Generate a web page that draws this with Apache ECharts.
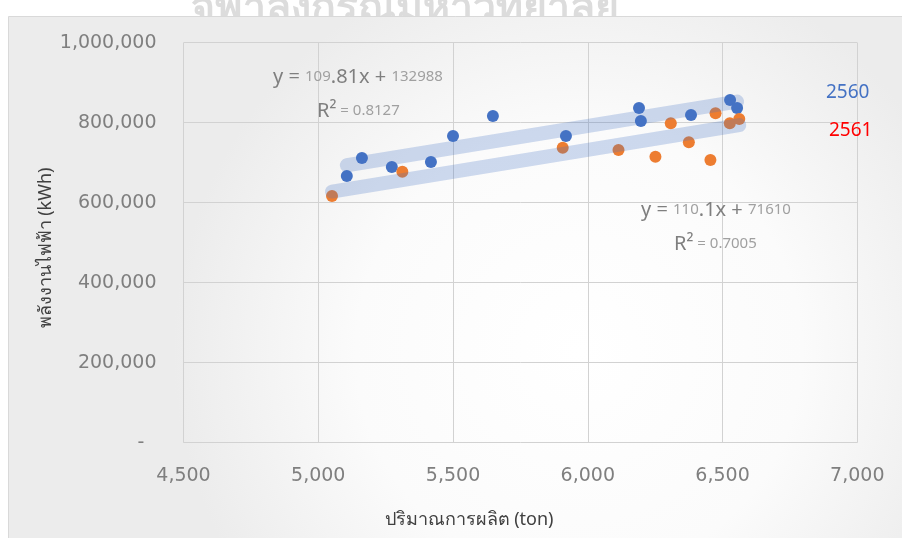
<!DOCTYPE html>
<html>
<head>
<meta charset="utf-8">
<script src="https://cdn.jsdelivr.net/npm/echarts@6/dist/echarts.min.js"></script>
<style>
  html, body { margin: 0; padding: 0; background: #ffffff; }
  #chart { width: 902px; height: 538px; }
</style>
</head>
<body>
<div id="chart"></div>
<script>
// Monthly production (ton) vs. electrical energy (kWh), two years
const seriesNames = ['2560', '2561'];
const seriesColors = ['#4472C4', '#ED7D31'];
const nameColors = ['#4472C4', '#FF0000'];

const output2560 = [5106, 5162, 5273, 5418, 5500, 5648, 5919, 6190, 6197, 6383, 6528, 6554];
const energy2560 = [666750, 711750, 689250, 701750, 766750, 816750, 766750, 836750, 804250, 819250, 856750, 836750];

const output2561 = [5051, 5312, 5907, 6114, 6251, 6308, 6375, 6455, 6474, 6527, 6562];
const energy2561 = [616750, 677500, 737500, 731750, 715000, 798500, 751000, 706750, 823500, 798500, 809250];

// Linear trend lines y = a x + b
const trendSlope = [109.81, 110.1];
const trendIntercept = [132988, 71610];
const trendR2 = ['0.8127', '0.7005'];

// Axis ranges
const xMin = 4500, xMax = 7000, xStep = 500;
const yMin = 0, yMax = 1000000, yStep = 200000;

const watermark = 'จุฬาลงกรณ์มหาวิทยาลัย';
const xTitle = 'ปริมาณการผลิต (ton)';
const yTitle = 'พลังงานไฟฟ้า (kWh)';

const outputs = [output2560, output2561];
const energies = [energy2560, energy2561];

const fmt = v => v.toLocaleString('en-US');

function trendPoints(i) {
  const xs = outputs[i];
  const lo = Math.min(...xs), hi = Math.max(...xs);
  return [lo, hi].map(x => [x, trendSlope[i] * x + trendIntercept[i]]);
}

function equationText(i) {
  const s = String(trendSlope[i]);
  const dot = s.indexOf('.');
  const intPart = dot >= 0 ? s.slice(0, dot) : s;
  const fracPart = dot >= 0 ? s.slice(dot) : '';
  return '{big|y = }{small|' + intPart + '}{big|' + fracPart + 'x + }{small|' + trendIntercept[i] + '}';
}
function r2Text(i) {
  return '{big|R²}{small| = ' + trendR2[i] + '}';
}
const eqRich = {
  big: { fontFamily: 'Noto Sans', fontSize: 20, fill: '#7f7f7f', color: '#7f7f7f' },
  small: { fontFamily: 'Noto Sans', fontSize: 15, fill: '#a0a0a0', color: '#a0a0a0' }
};

const chart = echarts.init(document.getElementById('chart'), null, { renderer: 'canvas' });

const scatterSeries = seriesNames.map((name, i) => ({
  name: name,
  type: 'scatter',
  symbol: 'circle',
  symbolSize: 12,
  itemStyle: { color: seriesColors[i], opacity: 1 },
  data: outputs[i].map((x, k) => [x, energies[i][k]]),
  z: 3
}));

const trendSeries = seriesNames.map((name, i) => ({
  name: name + ' trend',
  type: 'line',
  data: trendPoints(i),
  symbol: 'none',
  lineStyle: { color: 'rgba(68,114,196,0.26)', width: 14, cap: 'round' },
  silent: true,
  z: 4
}));

function textEl(x, y, text, style, z) {
  return { type: 'text', x: x, y: y, z: z || 1, silent: true, style: Object.assign({ text: text }, style) };
}

chart.setOption({
  backgroundColor: '#ffffff',
  animation: false,
  grid: { left: 183.5, right: 44.7, top: 42.7, bottom: 95.3, containLabel: false },
  xAxis: {
    type: 'value',
    min: xMin, max: xMax, interval: xStep,
    axisLine: { show: false },
    axisTick: { show: false },
    splitLine: { show: true, lineStyle: { color: '#d2d2d2', width: 1 } },
    axisLabel: {
      fontFamily: 'DejaVu Sans', fontSize: 19, color: '#7f7f7f', margin: 24,
      formatter: v => fmt(v)
    }
  },
  yAxis: {
    type: 'value',
    min: yMin, max: yMax, interval: yStep,
    axisLine: { show: false },
    axisTick: { show: false },
    splitLine: { show: true, lineStyle: { color: '#d2d2d2', width: 1 } },
    axisLabel: {
      fontFamily: 'DejaVu Sans', fontSize: 19, color: '#7f7f7f', margin: 27,
      formatter: v => (v === 0 ? '-  ' : fmt(v))
    }
  },
  graphic: [
    // page text sitting behind the chart frame
    textEl(405, 30, watermark, {
      font: 'bold 41px "Noto Sans", "DejaVu Sans", sans-serif',
      fill: '#dcdcdc', textAlign: 'center', textVerticalAlign: 'bottom'
    }, -20),
    // chart area with soft radial fill
    {
      type: 'rect', z: -10, silent: true,
      shape: { x: 8.5, y: 16.5, width: 920, height: 540 },
      style: {
        fill: new echarts.graphic.RadialGradient(0.62, 0.62, 0.75, [
          { offset: 0, color: '#ffffff' },
          { offset: 0.55, color: '#fbfbfb' },
          { offset: 1, color: '#ececec' }
        ]),
        stroke: '#d9d9d9', lineWidth: 1
      }
    },
    // axis titles
    textEl(469, 520, xTitle, {
      font: '18px "Noto Sans", "DejaVu Sans", sans-serif',
      fill: '#404040', textAlign: 'center', textVerticalAlign: 'middle'
    }),
    {
      type: 'text', x: 46, y: 248, rotation: Math.PI / 2, silent: true,
      style: {
        text: yTitle, font: '18px "Noto Sans", "DejaVu Sans", sans-serif',
        fill: '#404040', textAlign: 'center', textVerticalAlign: 'middle'
      }
    },
    // series names
    textEl(826, 93, seriesNames[0], {
      font: '19px "Noto Sans", sans-serif', fill: nameColors[0],
      textAlign: 'left', textVerticalAlign: 'middle'
    }),
    textEl(829, 131, seriesNames[1], {
      font: '19px "Noto Sans", sans-serif', fill: nameColors[1],
      textAlign: 'left', textVerticalAlign: 'middle'
    }),
    // trend equations
    textEl(273, 77, equationText(0), { rich: eqRich, textAlign: 'left', textVerticalAlign: 'middle' }),
    textEl(317, 111, r2Text(0), { rich: eqRich, textAlign: 'left', textVerticalAlign: 'middle' }),
    textEl(641, 210, equationText(1), { rich: eqRich, textAlign: 'left', textVerticalAlign: 'middle' }),
    textEl(674, 244, r2Text(1), { rich: eqRich, textAlign: 'left', textVerticalAlign: 'middle' })
  ],
  series: scatterSeries.concat(trendSeries)
});
</script>
</body>
</html>
